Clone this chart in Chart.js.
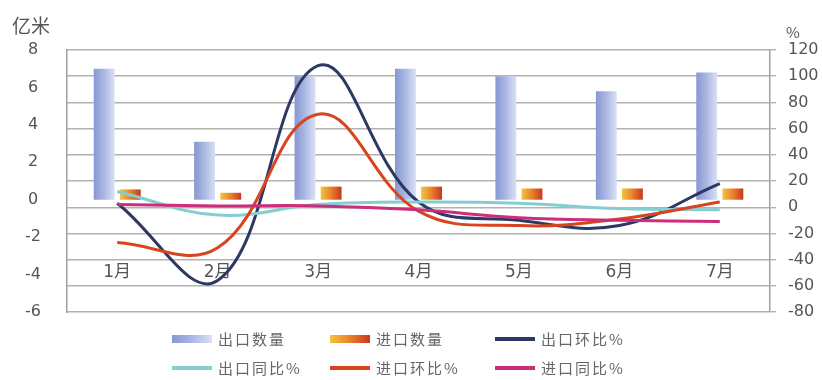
<!DOCTYPE html>
<html>
<head>
<meta charset="utf-8">
<script src="https://cdn.jsdelivr.net/npm/chart.js@4.4.1/dist/chart.umd.min.js"></script>
<style>
    body { margin: 0; background: #fff; }
    #wrap { position: relative; width: 822px; height: 380px; font-family: "DejaVu Sans", "Noto Sans CJK SC", sans-serif; }
    #chart { position: absolute; left: 0; top: 0; }
    .unit { position: absolute; color: #555; font-family: "Noto Sans CJK SC", sans-serif; line-height: 1; }
    #legend { position: absolute; left: 172px; top: 324px; display: grid; grid-template-columns: 158px 165px auto; grid-auto-rows: 29px; }
    .item { display: flex; align-items: center; color: #666; font-family: "Noto Sans CJK SC", sans-serif; font-size: 15px; letter-spacing: 2px; }
    .swatch { width: 40px; margin-right: 6px; }
</style>
</head>
<body>
<div id="wrap">
    <canvas id="chart" width="822" height="380"></canvas>
    <div class="unit" style="left:12px;top:15px;font-size:19px;">亿米</div>
    <div class="unit" style="left:786px;top:24px;font-size:15px;">%</div>
    <div id="legend"></div>
</div>
<script>
// dados
const meses = ['1月', '2月', '3月', '4月', '5月', '6月', '7月'];
const exportQty = [7.0, 3.1, 6.6, 7.0, 6.6, 5.8, 6.8];     // 亿米
const importQty = [0.55, 0.37, 0.7, 0.7, 0.6, 0.6, 0.6];   // 亿米
const exportMoM = [3, -56, 108, 4, -10, -14, 18];          // %
const exportYoY = [12, -6, 2, 4, 3, -1, -2];               // %
const importMoM = [-27, -31, 71, -3, -14, -9, 4];          // %
const importYoY = [2, 1, 1, -2, -8, -10, -11];             // %
const qtyTicks = [-6, -4, -2, 0, 2, 4, 6, 8];
const pctTicks = [-80, -60, -40, -20, 0, 20, 40, 60, 80, 100, 120];

const CAT_PCT = 0.52;
const BAR_PCT = 0.8;
const blueStops = ['#8797d1', '#abb8e3', '#dae1f4'];
const orangeStops = ['#f2c444', '#e8822a', '#c8361e'];

// gradiente horizontal para cada barra
function barGradient(context, side, stops) {
    const chart = context.chart;
    const xs = chart.scales.x;
    if (!chart.chartArea || !xs || context.dataIndex === undefined) {
        return stops[1];
    }
    const catW = xs.width / meses.length;
    const slot = catW * CAT_PCT / 2;
    const center = xs.getPixelForValue(context.dataIndex) + side * slot / 2;
    const half = slot * BAR_PCT / 2;
    const g = chart.ctx.createLinearGradient(center - half, 0, center + half, 0);
    stops.forEach((c, i) => g.addColorStop(i / (stops.length - 1), c));
    return g;
}

function lineSet(label, data, color, order) {
    return {
        type: 'line', label: label, data: data, yAxisID: 'y1',
        borderColor: color, backgroundColor: color, borderWidth: 3,
        pointRadius: 0, tension: 0.4, fill: false, order: order
    };
}

const tickFont = { family: '"DejaVu Sans", sans-serif', size: 16 };

const chart = new Chart(document.getElementById('chart').getContext('2d'), {
    type: 'bar',
    data: {
        labels: meses,
        datasets: [
            {
                label: '出口数量', data: exportQty, yAxisID: 'y', order: 5,
                backgroundColor: c => barGradient(c, -1, blueStops),
                barPercentage: BAR_PCT, categoryPercentage: CAT_PCT
            },
            {
                label: '进口数量', data: importQty, yAxisID: 'y', order: 6,
                backgroundColor: c => barGradient(c, 1, orangeStops),
                barPercentage: BAR_PCT, categoryPercentage: CAT_PCT
            },
            lineSet('出口环比%', exportMoM, '#2d3864', 4),
            lineSet('出口同比%', exportYoY, '#86cdd2', 3),
            lineSet('进口环比%', importMoM, '#d8441e', 2),
            lineSet('进口同比%', importYoY, '#cc2f7a', 1)
        ]
    },
    options: {
        responsive: false,
        animation: false,
        layout: { padding: { top: 50, bottom: 68, left: 0, right: 0 } },
        plugins: { legend: { display: false }, tooltip: { enabled: false } },
        scales: {
            x: {
                position: { y1: -40 },
                grid: { display: false, drawTicks: false },
                border: { display: false },
                ticks: { color: '#555', padding: 3, font: { family: '"DejaVu Sans", "Noto Sans CJK SC", sans-serif', size: 17 } },
                afterFit: s => { s.height = 0; }
            },
            y: {
                position: 'left',
                min: qtyTicks[0], max: qtyTicks[qtyTicks.length - 1],
                grid: { display: false, drawTicks: false },
                border: { color: '#a0a0a0', width: 1.5 },
                ticks: { color: '#555', crossAlign: 'center', padding: 26, font: tickFont },
                afterBuildTicks: s => { s.ticks = qtyTicks.map(v => ({ value: v })); },
                afterFit: s => { s.width = 67; }
            },
            y1: {
                position: 'right',
                min: pctTicks[0], max: pctTicks[pctTicks.length - 1],
                grid: { color: '#b2b2b2', lineWidth: 1.4, tickLength: 6 },
                border: { color: '#a0a0a0', width: 1.5 },
                ticks: { color: '#555', padding: 12, font: tickFont },
                afterBuildTicks: s => { s.ticks = pctTicks.map(v => ({ value: v })); },
                afterFit: s => { s.width = 52; }
            }
        }
    }
});

// legenda em HTML, 3 colunas
const legend = document.getElementById('legend');
chart.data.datasets.forEach((ds, i) => {
    const item = document.createElement('div');
    item.className = 'item';
    const sw = document.createElement('span');
    sw.className = 'swatch';
    if (ds.type === 'line') {
        sw.style.height = '4px';
        sw.style.background = ds.borderColor;
    } else {
        const stops = i === 0 ? blueStops : orangeStops;
        sw.style.height = '8px';
        sw.style.background = 'linear-gradient(to right, ' + stops.join(', ') + ')';
    }
    item.appendChild(sw);
    item.appendChild(document.createTextNode(ds.label));
    legend.appendChild(item);
});
</script>
</body>
</html>
